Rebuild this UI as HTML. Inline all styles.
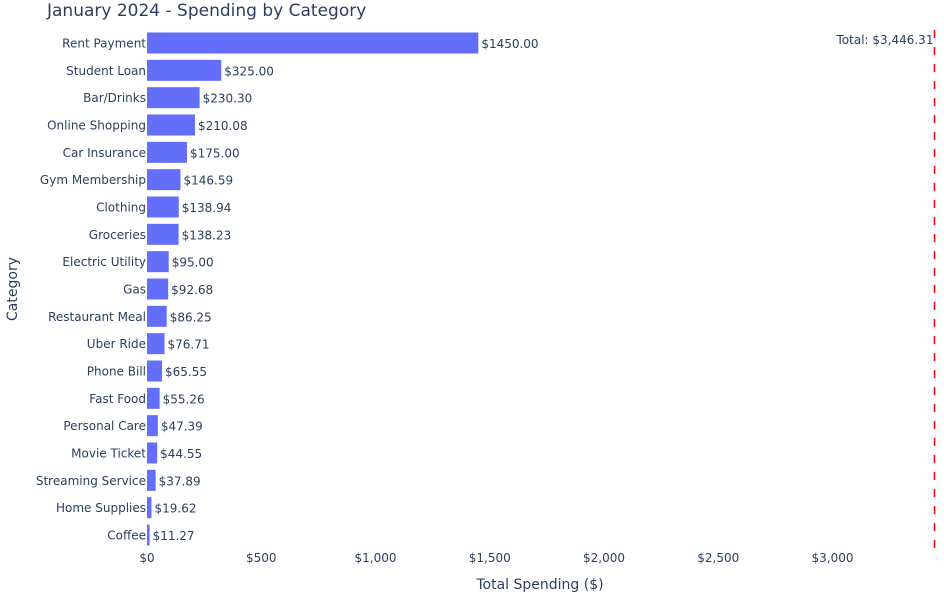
<!DOCTYPE html>
<html><head><meta charset="utf-8"><style>
body{margin:0;background:#fff}
svg{font-family:"DejaVu Sans",sans-serif;display:block}
</style></head><body>
<svg id="c" width="944" height="600">
<text x="47" y="16" font-size="17" fill="#2a3f5f">January 2024 - Spending by Category</text>
<text x="540" y="589" font-size="14" fill="#2a3f5f" text-anchor="middle">Total Spending ($)</text>
<text transform="translate(17,289) rotate(-90)" font-size="14" fill="#2a3f5f" text-anchor="middle">Category</text>
<g id="bars"></g>
</svg>
<script>
const categories=["Rent Payment","Student Loan","Bar/Drinks","Online Shopping","Car Insurance","Gym Membership","Clothing","Groceries","Electric Utility","Gas","Restaurant Meal","Uber Ride","Phone Bill","Fast Food","Personal Care","Movie Ticket","Streaming Service","Home Supplies","Coffee"];
const values=[1450.00,325.00,230.30,210.08,175.00,146.59,138.94,138.23,95.00,92.68,86.25,76.71,65.55,55.26,47.39,44.55,37.89,19.62,11.27];
const xTicks=[0,500,1000,1500,2000,2500,3000];
const xTickLabels=["$0","$500","$1,000","$1,500","$2,000","$2,500","$3,000"];
const total=3446.31;
const NS="http://www.w3.org/2000/svg";
const g=document.getElementById('bars');
const x0=147,scale=0.2285;
const X=v=>x0+v*scale;
const top0=43,step=(535-43)/18;
const Y=i=>top0+i*step;
function mk(tag,attrs,txt){const e=document.createElementNS(NS,tag);for(const k in attrs)e.setAttribute(k,attrs[k]);if(txt!==undefined)e.textContent=txt;g.appendChild(e);return e;}
xTicks.forEach((t,i)=>{
 const e=mk('text',{x:X(t),y:562,'font-size':12,fill:'#2a3f5f','text-anchor':'middle'},xTickLabels[i]);
 
 
});
categories.forEach((c,i)=>{
 const y=Y(i);
 const r=mk('rect',{x:x0,y:y-10.5,width:Math.max(values[i]*scale,1),height:21,fill:'#636efa'});
 
 
 const l=mk('text',{x:x0-1,y:y+4.5,'font-size':12,fill:'#2a3f5f','text-anchor':'end'},c);
 
 
 const v=mk('text',{x:X(values[i])+3,y:y+5,'font-size':12,fill:'#2a3f5f'},'$'+values[i].toFixed(2));
 
 
});
const tx=X(total);
const ln=mk('line',{x1:tx,x2:tx,y1:30,y2:549,stroke:'red','stroke-width':1.5,'stroke-dasharray':'8,9'});


const tt=mk('text',{x:tx-1,y:44,'font-size':12,fill:'#2a3f5f','text-anchor':'end'},'Total: $3,446.31');


</script>
</body></html>
